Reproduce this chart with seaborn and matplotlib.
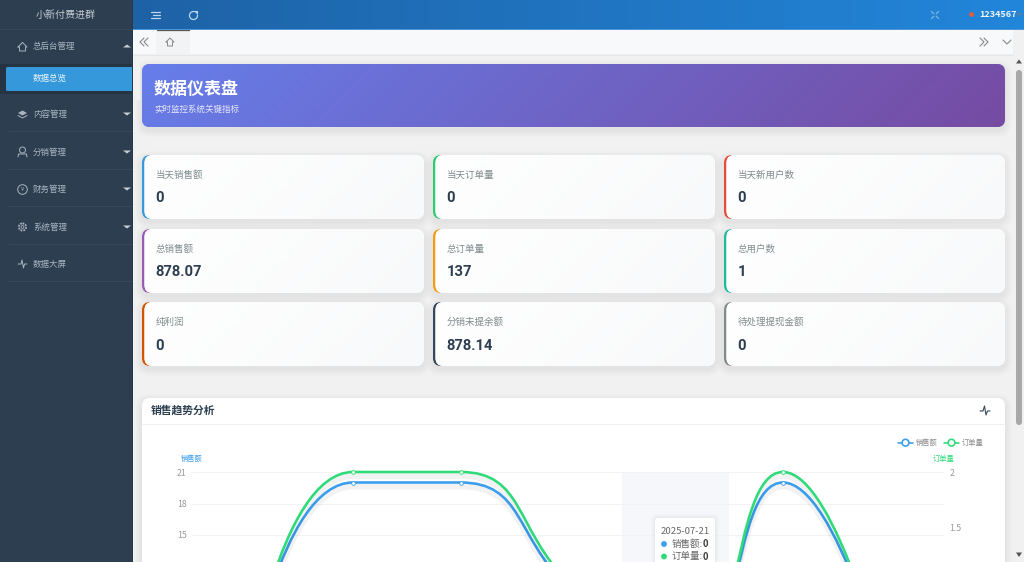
import numpy as np
import pandas as pd
import matplotlib
matplotlib.use("Agg")
import matplotlib.pyplot as plt
import seaborn as sns
from matplotlib.patches import FancyBboxPatch, PathPatch, Polygon, Circle, Rectangle
from matplotlib.path import Path
import matplotlib.patheffects as pe

# data
dates = ["2025-07-17", "2025-07-18", "2025-07-19", "2025-07-20", "2025-07-21", "2025-07-22", "2025-07-23"]
sales = [0, 20, 20, 10, 0, 20, 0]
orders = [0, 2, 2, 1, 0, 2, 0]
sales_ticks = [15, 18, 21]
orders_ticks = [1.5, 2]

card_labels = ["当天销售额", "当天订单量", "当天新用户数",
               "总销售额", "总订单量", "总用户数",
               "纯利润", "分销未提余额", "待处理提现金额"]
card_values = ["0", "0", "0", "878.07", "137", "1", "0", "878.14", "0"]
card_colors = ["#3498db", "#2ecc71", "#e74c3c",
               "#9b59b6", "#f39c12", "#1abc9c",
               "#d35400", "#34495e", "#7f8c8d"]

menu_labels = ["总后台管理", "内容管理", "分销管理", "财务管理", "系统管理", "数据大屏"]
menu_y = [46, 114, 152, 189, 227, 264]

sns.set_theme(style="white")
plt.rcParams["font.family"] = ["Noto Sans CJK SC", "DejaVu Sans"]
PT = 0.72  # 1 px in points at dpi 100

fig = plt.figure(figsize=(10.24, 5.62), dpi=100)
bg = fig.add_axes([0, 0, 1, 1], zorder=0)
bg.set_xlim(0, 1024)
bg.set_ylim(562, 0)
bg.axis("off")


def rbox(ax, x0, y0, x1, y1, r, **kw):
    p = FancyBboxPatch((x0, y0), x1 - x0, y1 - y0, boxstyle=f"round,pad=0,rounding_size={r}", linewidth=kw.pop("lw", 0), **kw)
    ax.add_patch(p)
    return p


def gradient(ax, x0, y0, x1, y1, c0, c1, clip=None, zorder=1, diag=True):
    w, h = int(x1 - x0), int(y1 - y0)
    xx, yy = np.meshgrid(np.linspace(0, 1, w), np.linspace(0, 1, h))
    t = (xx * w + yy * h) / (w + h) if diag else xx
    a = np.array(matplotlib.colors.to_rgb(c0))
    b = np.array(matplotlib.colors.to_rgb(c1))
    img = a[None, None, :] + (b - a)[None, None, :] * t[..., None]
    im = ax.imshow(img, extent=(x0, x1, y1, y0), aspect="auto", zorder=zorder, interpolation="bilinear")
    if clip is not None:
        im.set_clip_path(clip)
    ax.set_xlim(0, 1024)
    ax.set_ylim(562, 0)
    return im


def shadow(ax, x0, y0, x1, y1, r, zorder=1, strength=0.006, spread=7, dy=3):
    for k in range(spread, 0, -1):
        rbox(ax, x0 - k, y0 - k + dy, x1 + k, y1 + k + dy, r + k, fc="black", alpha=strength, zorder=zorder)


def icon_line(ax, xs, ys, color="#aab4be", lw=0.7, zorder=6):
    ax.plot(xs, ys, color=color, lw=lw, zorder=zorder, solid_capstyle="round", solid_joinstyle="round")


# page background and chrome
bg.add_patch(Rectangle((0, 0), 1024, 562, fc="#f1f1f1", lw=0, zorder=0))
bg.add_patch(Rectangle((133, 30), 880, 24, fc="#f8f9fa", lw=0, zorder=1))
bg.plot([133, 1014], [54.5, 54.5], color="#e6e6e6", lw=0.7, zorder=2)
bg.add_patch(Rectangle((156, 30), 34, 24, fc="#f2f3f4", lw=0, zorder=2))
bg.plot([157, 189], [30.3, 30.3], color="#555555", lw=0.9, zorder=3)
gradient(bg, 133, 0, 1024, 29, "#1e62a6", "#2286da", zorder=2, diag=False)
bg.add_patch(Rectangle((133, 29), 891, 1, fc="#4d97d8", lw=0, zorder=3))

# sidebar
bg.add_patch(Rectangle((0, 0), 132, 562, fc="#2c3e50", lw=0, zorder=3))
bg.add_patch(Rectangle((132, 0), 1, 562, fc="#27394a", lw=0, zorder=3))
bg.text(66, 15, "小新付费进群", color="#c5ccd3", fontsize=10 * PT, ha="center", va="center", zorder=6)
for yy in [29, 131, 169, 206, 244, 281]:
    bg.plot([8, 132] if yy != 29 else [0, 132], [yy, yy], color="#34495e", lw=0.7, zorder=4)
bg.add_patch(Rectangle((0, 64), 132, 30, fc="#243443", lw=0, zorder=4))
rbox(bg, 6, 67, 140, 91, 1.5, fc="#3498db", zorder=5)
bg.add_patch(Rectangle((132, 60), 1, 40, fc="#27394a", lw=0, zorder=5))
bg.add_patch(Rectangle((133, 60), 7, 40, fc="#f1f1f1", lw=0, zorder=5))
bg.text(33, 78.5, "数据总览", color="#e8f3fb", fontsize=8.5 * PT, va="center", zorder=6)
for lab, y in zip(menu_labels, menu_y):
    bg.text(33, y, lab, color="#a9b4bf", fontsize=8.5 * PT, va="center", zorder=6)
for y in menu_y[:5]:
    d = -1 if y == menu_y[0] else 1
    bg.add_patch(Polygon([[123, y - 1.5 * d], [131, y - 1.5 * d], [127, y + 1.5 * d]], fc="#c8ced4", lw=0, zorder=6))

# sidebar icons
icon_line(bg, [18, 22.5, 27, 25.5, 25.5, 19.5, 19.5, 18], [47, 42.5, 47, 47, 51, 51, 47, 47])
bg.add_patch(Polygon([[18, 113], [22.5, 110.5], [27, 113], [22.5, 115.5]], fc="#aab4be", lw=0, zorder=6))
icon_line(bg, [18, 22.5, 27], [115.5, 118, 115.5])
bg.add_patch(Circle((22.5, 150), 3, fc="none", ec="#aab4be", lw=0.7, zorder=6))
icon_line(bg, [18, 18.5, 26.5, 27], [157, 154, 154, 157])
bg.add_patch(Circle((22.5, 189.5), 4.8, fc="none", ec="#aab4be", lw=0.7, zorder=6))
bg.text(22.5, 189.5, "¥", color="#aab4be", fontsize=6 * PT, ha="center", va="center", zorder=6)
bg.add_patch(Circle((22.5, 227), 3.6, fc="none", ec="#aab4be", lw=1.3, ls=(0, (1, 0.6)), zorder=6))
bg.add_patch(Circle((22.5, 227), 1.4, fc="none", ec="#aab4be", lw=0.6, zorder=6))
icon_line(bg, [18, 21, 22, 23.5, 24.5, 27], [264, 264, 260, 268, 264, 264])

# top bar icons
for k, yy in enumerate([12, 15, 18]):
    icon_line(bg, [151 if k != 1 else 153, 160], [yy, yy], color="#bcd6ee", lw=0.9)
bg.add_patch(matplotlib.patches.Arc((193.5, 15.5), 8, 8, theta1=-10, theta2=290, ec="#bcd6ee", lw=0.9, zorder=6))
bg.add_patch(Polygon([[194, 10.5], [198, 10.5], [198, 14.5]], fc="#bcd6ee", lw=0, zorder=6))
for sx, sy in [(-1, -1), (1, -1), (-1, 1), (1, 1)]:
    icon_line(bg, [935 + sx * 1.2, 935 + sx * 3.6], [15 + sy * 1.2, 15 + sy * 3.6], color="#7fb4e0", lw=0.9)
bg.add_patch(Circle((971.5, 14.5), 2.3, fc="#f0592b", lw=0, zorder=6))
bg.text(979, 14.5, "1234567", color="#eef5fb", fontsize=9 * PT, va="center", fontweight="bold", zorder=6)
bg.add_patch(Polygon([[1016, 13], [1022, 13], [1019, 16]], fc="#5b7d9c", lw=0, zorder=6))

# tab bar icons
for off in [0, 4]:
    icon_line(bg, [144 + off, 140 + off, 144 + off], [38, 42, 46], color="#888888", lw=0.8)
    icon_line(bg, [980 + off, 984 + off, 980 + off], [38, 42, 46], color="#888888", lw=0.8)
icon_line(bg, [1003, 1007, 1011], [40, 44, 40], color="#888888", lw=0.8)
icon_line(bg, [166, 170, 174, 172.5, 172.5, 167.5, 167.5, 166], [42, 38, 42, 42, 46, 46, 42, 42], color="#888888", lw=0.7)

# banner
shadow(bg, 142, 64, 1005, 127, 8, zorder=2)
clip = rbox(bg, 142, 64, 1005, 127, 8, fc="#667eea", zorder=3)
gradient(bg, 142, 64, 1005, 127, "#667eea", "#764ba2", clip=clip, zorder=4)
bg.text(154, 89, "数据仪表盘", color="white", fontsize=17 * PT, fontweight="bold", va="center", zorder=5)
bg.text(154, 109, "实时监控系统关键指标", color="#e6e6f8", fontsize=8.5 * PT, va="center", zorder=5)

# stat cards
col_x = [(142, 424), (433, 715), (724, 1005)]
row_y = [(155, 219), (229, 293), (302, 366)]
for i, (lab, val, col) in enumerate(zip(card_labels, card_values, card_colors)):
    x0, x1 = col_x[i % 3]
    y0, y1 = row_y[i // 3]
    shadow(bg, x0, y0, x1, y1, 8, zorder=2)
    rbox(bg, x0, y0, x0 + 30, y1, 8, fc=col, zorder=3)
    clip = rbox(bg, x0 + 2.5, y0, x1, y1, 8, fc="white", zorder=3)
    gradient(bg, int(x0 + 2.5), y0, x1, y1, "#ffffff", "#f8f9fa", clip=clip, zorder=4)
    bg.text(x0 + 14, y0 + 20, lab, color="#7f8c8d", fontsize=9.5 * PT, va="center", zorder=5)
    bg.text(x0 + 13.5, y0 + 43.5, val, color="#2c3e50", fontsize=14.8 * PT, fontweight="bold", va="center", family=["Roboto", "DejaVu Sans"], zorder=5)

# chart card, runs off the bottom of the screen
shadow(bg, 142, 398, 1005, 620, 8, zorder=2)
rbox(bg, 142, 398, 1005, 620, 8, fc="white", zorder=3)
bg.plot([142, 1005], [423.5, 423.5], color="#f0f0f0", lw=0.7, zorder=4)
bg.text(151, 410, "销售趋势分析", color="#2c3e50", fontsize=10.8 * PT, fontweight="bold", va="center", zorder=5)
icon_line(bg, [980, 983, 984.5, 986, 987.5, 990], [411, 411, 406, 415, 411, 411], color="#34495e", lw=0.8)

# scrollbar
bg.add_patch(Rectangle((1014, 55), 10, 507, fc="#f1f1f1", lw=0, zorder=4))
rbox(bg, 1016, 70, 1022, 425, 3, fc="#a8a8a8", zorder=5)
bg.add_patch(Polygon([[1016, 63.5], [1022, 63.5], [1019, 59.5]], fc="#555555", lw=0, zorder=5))
bg.add_patch(Polygon([[1016, 552.5], [1022, 552.5], [1019, 557]], fc="#555555", lw=0, zorder=5))

# chart, the lower part falls outside the window like in the screenshot
W, H = 1024, 562
left, right, top, bottom = 192, 944, 472, 692.5
ax = fig.add_axes([left / W, 1 - bottom / H, (right - left) / W, (bottom - top) / H], zorder=2)
ax.patch.set_alpha(0)
ax2 = ax.twinx()
ax2.patch.set_alpha(0)

BLUE = "#3a9ded"
GREEN = "#2edb78"
frame = pd.DataFrame({"date": dates, "sales": sales, "orders": orders})

sns.scatterplot(data=frame, x="date", y="sales", ax=ax, s=7, color="white", edgecolor=BLUE, linewidth=0.6, zorder=5, clip_on=False)
sns.scatterplot(data=frame, x="date", y="orders", ax=ax2, s=7, color="white", edgecolor=GREEN, linewidth=0.6, zorder=5, clip_on=False)

ax.set_xlim(-0.5, len(dates) - 0.5)
ax.set_ylim(0, 21)
ax2.set_ylim(0, 2.0)
ax.set_yticks(sales_ticks)
ax2.set_yticks(orders_ticks)
ax2.set_yticklabels(["1.5", "2"])
ax.set_xticks([])
ax.set_xlabel("")
ax.set_ylabel("")
ax2.set_ylabel("")
for a in (ax, ax2):
    for s in a.spines.values():
        s.set_visible(False)
    a.tick_params(axis="both", length=0, labelsize=7 * PT * 1.25, labelcolor="#999999", pad=4)
ax.grid(axis="y", color="#f3f3f3", lw=0.7)
ax.set_axisbelow(True)
ax2.grid(False)

# hover band behind everything in the plot area
band = dates.index("2025-07-21")
ax.axvspan(band - 0.5, band + 0.5, color="#f5f7fa", lw=0, zorder=0)


def between(v, a, b):
    return max(min(v, max(a, b)), min(a, b))


def smooth_path(a, ys, smooth=0.5):
    # echarts style smoothing, done in pixels, control points kept inside the neighbours
    pts = a.transData.transform(np.c_[np.arange(len(ys)), ys])
    n = len(pts)
    verts = [pts[0]]
    codes = [Path.MOVETO]
    cp0 = pts[0]
    for i in range(1, n):
        p = pts[i]
        if i == n - 1:
            verts += [cp0, p, p]
            codes += [Path.CURVE4] * 3
            break
        prev, nxt = pts[i - 1], pts[i + 1]
        len_prev = np.hypot(*(p - prev))
        len_next = np.hypot(*(nxt - p))
        ratio = len_next / (len_next + len_prev)
        d = nxt - prev
        nc = p + d * smooth * ratio
        nc = np.array([between(nc[0], nxt[0], p[0]), between(nc[1], nxt[1], p[1])])
        c1 = p - (nc - p) * len_prev / len_next
        c1 = np.array([between(c1[0], prev[0], p[0]), between(c1[1], prev[1], p[1])])
        nc = p + (p - c1) * len_next / len_prev
        verts += [cp0, c1, p]
        codes += [Path.CURVE4] * 3
        cp0 = nc
    return Path(a.transData.inverted().transform(np.array(verts)), codes)


line_fx = [pe.SimpleLineShadow(offset=(0, -3), shadow_color="black", alpha=0.05, linewidth=4), pe.Normal()]
ax.add_patch(PathPatch(smooth_path(ax, sales), fc="none", ec=BLUE, lw=2.6 * PT, zorder=3, path_effects=line_fx, clip_on=False))
ax2.add_patch(PathPatch(smooth_path(ax2, orders), fc="none", ec=GREEN, lw=2.6 * PT, zorder=3, path_effects=line_fx, clip_on=False))

# axis names and legend on the top layer
top_ax = fig.add_axes([0, 0, 1, 1], zorder=3)
top_ax.set_xlim(0, 1024)
top_ax.set_ylim(562, 0)
top_ax.axis("off")
top_ax.text(192, 458.5, "销售额", color=BLUE, fontsize=7.3 * PT, ha="center", va="center")
top_ax.text(944, 458.5, "订单量", color=GREEN, fontsize=7.3 * PT, ha="center", va="center")
for x0, col, lab in [(898, BLUE, "销售额"), (944, GREEN, "订单量")]:
    top_ax.plot([x0, x0 + 15], [442.7, 442.7], color=col, lw=1.6 * PT)
    top_ax.add_patch(Circle((x0 + 7.5, 442.7), 3.4, fc="white", ec=col, lw=1.6 * PT, zorder=3))
    top_ax.text(x0 + 18, 442.7, lab, color="#8a8a8a", fontsize=7.3 * PT, va="center")

# tooltip at the hovered date
shadow(top_ax, 655, 518, 715, 562, 3, zorder=1, strength=0.012, spread=4, dy=0)
rbox(top_ax, 655, 518, 715, 620, 3, fc="white", zorder=2)
top_ax.text(661, 531, dates[band], color="#666666", fontsize=9.5 * PT, va="center", zorder=3)
for y, col, lab, val in [(544, BLUE, "销售额", sales[band]), (556.5, GREEN, "订单量", orders[band])]:
    top_ax.add_patch(Circle((664, y), 2.9, fc=col, lw=0, zorder=3))
    top_ax.text(672, y, f"{lab}:", color="#666666", fontsize=9.5 * PT, va="center", zorder=3)
    top_ax.text(703, y, str(val), color="#444444", fontsize=9.5 * PT, fontweight="bold", va="center", zorder=3)

fig.savefig("out.png", dpi=100)
